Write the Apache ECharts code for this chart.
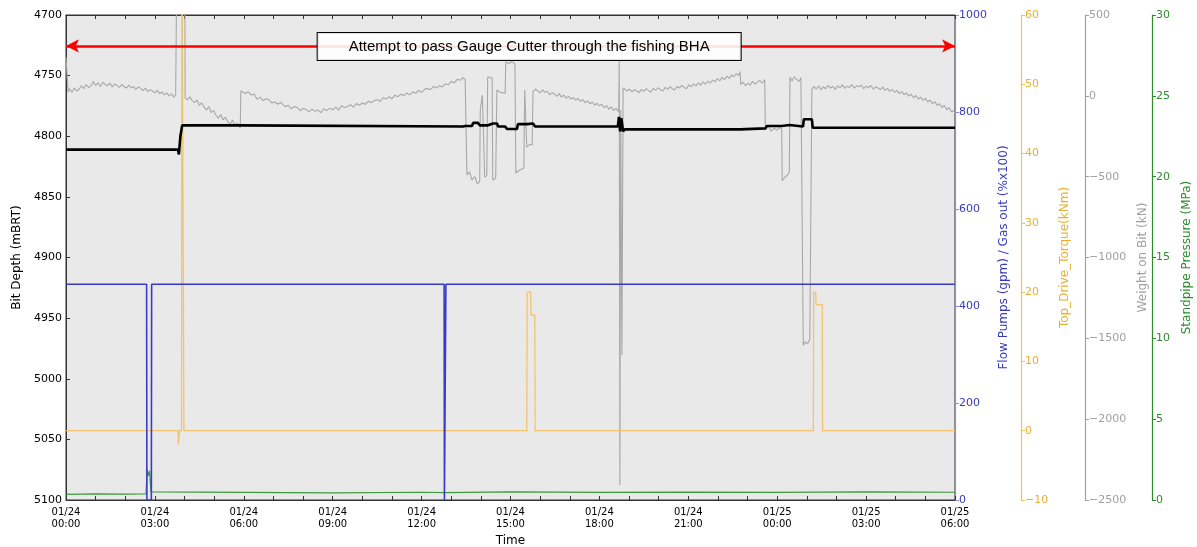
<!DOCTYPE html>
<html><head><meta charset="utf-8">
<script src="https://cdn.jsdelivr.net/npm/echarts@6/dist/echarts.min.js"></script>
<style>html,body{margin:0;padding:0;background:#fff;}#c{width:1197px;height:547px;}</style>
</head><body><div id="c"></div>
<script>
// Time in hours from 01/24 00:00
const xTicksHours = [0, 3, 6, 9, 12, 15, 18, 21, 24, 27, 30];
const xTickLabels = ['01/24\n00:00','01/24\n03:00','01/24\n06:00','01/24\n09:00','01/24\n12:00','01/24\n15:00','01/24\n18:00','01/24\n21:00','01/25\n00:00','01/25\n03:00','01/25\n06:00'];

// Bit depth (mBRT), left axis
const bitDepth = [[0,4811],[3.78,4811],[3.81,4815],[3.84,4815],[3.86,4800],[3.88,4797],[3.92,4791],[5.85,4791],[5.9,4792],[13.4,4792],[13.47,4791.5],[13.7,4791.5],[13.74,4789],[13.9,4789],[13.97,4791],[14.24,4791],[14.41,4789.5],[14.55,4789.5],[14.58,4792],[14.82,4792],[14.88,4794],[15.22,4794],[15.25,4790],[15.56,4790],[15.59,4789.5],[15.76,4789.5],[15.83,4792],[18.62,4792],[18.66,4784],[18.7,4796],[18.74,4785],[18.8,4796],[18.85,4794.3],[22.75,4794.3],[22.8,4793.5],[23.6,4793.5],[23.65,4791.6],[24.15,4791.6],[24.18,4790.7],[24.42,4790.7],[24.45,4792],[24.87,4792],[24.9,4786],[25.17,4786],[25.2,4793],[30,4793]];

// Flow pumps (gpm), blue axis
const flowPumps = [[0,445],[2.72,445],[2.73,0],[2.88,0],[2.89,445],[12.76,445],[12.77,0],[12.81,0],[12.82,445],[30,445]];

// Top drive torque (kNm), orange axis
const torque = [[0,0],[3.78,0],[3.79,-2],[3.82,-2],[3.83,0],[3.9,0],[3.91,75],[3.97,75],[3.98,0],[15.55,0],[15.56,20],[15.68,20],[15.69,16.7],[15.82,16.7],[15.83,0],[25.22,0],[25.23,20],[25.3,20],[25.31,18.2],[25.52,18.2],[25.53,0],[30,0]];

// Weight on bit (kN), gray axis
const weightOnBit = [[0,240],[0.05,240],[0.07,24],[0.12,44],[0.2,22],[0.28,48],[0.36,30],[0.44,41],[0.52,62],[0.6,45],[0.68,70],[0.76,52],[0.84,60],[0.92,88],[1.0,64],[1.08,80],[1.16,58],[1.24,84],[1.32,70],[1.4,62],[1.48,79],[1.56,55],[1.64,72],[1.72,66],[1.8,52],[1.88,70],[1.96,58],[2.04,48],[2.12,66],[2.2,50],[2.28,57],[2.36,40],[2.44,55],[2.52,46],[2.6,32],[2.68,48],[2.76,26],[2.84,38],[2.92,30],[3.0,18],[3.08,34],[3.16,14],[3.24,24],[3.32,6],[3.4,18],[3.48,0],[3.56,12],[3.64,-8],[3.7,6],[3.73,11],[3.74,800],[4.01,800],[4.02,-13],
[4.1,-24],[4.18,-6],[4.26,-30],[4.34,-42],[4.42,-26],[4.5,-58],[4.58,-44],[4.66,-70],[4.74,-88],[4.82,-66],[4.9,-104],[4.98,-90],[5.06,-120],[5.14,-138],[5.22,-116],[5.3,-148],[5.38,-132],[5.46,-160],[5.54,-176],[5.62,-150],[5.7,-182],[5.78,-168],[5.88,-198],[5.9,30],
[5.95,40],[6.05,14],[6.15,25],[6.25,5],[6.35,12],[6.45,-22],[6.55,-8],[6.65,-30],[6.75,-18],[6.85,-24],[6.95,-45],[7.05,-38],[7.15,-52],[7.25,-40],[7.4,-68],[7.5,-58],[7.6,-80],[7.7,-66],[7.8,-72],[7.9,-92],[8.0,-78],[8.1,-85],[8.2,-98],[8.3,-82],[8.4,-96],[8.5,-88],[8.6,-104],[8.7,-80],[8.8,-92],[8.9,-76],[9.0,-86],[9.1,-70],[9.2,-88],[9.3,-62],[9.4,-72],[9.5,-66],[9.6,-55],[9.7,-70],[9.8,-48],[9.9,-58],[10.0,-44],[10.1,-52],[10.2,-34],[10.3,-42],[10.4,-30],[10.5,-22],[10.6,-35],[10.7,-12],[10.8,-20],[10.9,-6],[11.0,-18],[11.1,4],[11.2,-5],[11.3,10],[11.4,2],[11.5,18],[11.6,6],[11.7,24],[11.8,16],[11.9,34],[12.0,22],[12.1,40],[12.2,46],[12.3,38],[12.4,58],[12.5,48],[12.6,62],[12.7,55],[12.8,75],[12.9,68],[13.0,90],[13.1,80],[13.2,102],[13.3,96],[13.4,112],[13.47,100],
[13.52,98],[13.53,-490],[13.62,-470],[13.7,-520],[13.8,-500],[13.88,-545],[13.96,-530],[13.98,-88],[14.05,5],[14.1,5],[14.13,-502],[14.2,-495],[14.23,116],[14.38,110],[14.4,-521],[14.5,-508],[14.54,36],[14.65,22],[14.82,17],[14.84,209],[14.95,200],[15.05,212],[15.15,197],[15.18,-477],[15.3,-460],[15.45,-446],[15.48,36],[15.53,30],[15.55,-317],[15.65,-300],[15.73,-304],[15.76,24],
[15.84,42],[15.92,30],[16.0,18],[16.08,36],[16.16,22],[16.24,28],[16.32,6],[16.4,20],[16.48,12],[16.56,-4],[16.64,14],[16.72,-8],[16.8,4],[16.88,-14],[16.96,-2],[17.04,-20],[17.12,-10],[17.2,-26],[17.28,-16],[17.36,-34],[17.44,-22],[17.52,-44],[17.6,-30],[17.68,-50],[17.76,-38],[17.84,-58],[17.92,-46],[18.0,-62],[18.08,-52],[18.16,-74],[18.24,-60],[18.32,-82],[18.4,-68],[18.48,-90],[18.56,-78],[18.65,-100],[18.67,222],[18.69,-2407],[18.72,-88],[18.76,-1603],[18.8,48],
[18.86,46],[18.94,30],[19.02,42],[19.1,24],[19.18,38],[19.26,30],[19.34,20],[19.42,40],[19.5,28],[19.58,44],[19.66,32],[19.74,24],[19.82,46],[19.9,34],[19.98,50],[20.06,38],[20.14,30],[20.22,52],[20.3,40],[20.38,56],[20.46,44],[20.54,36],[20.62,58],[20.7,48],[20.78,64],[20.86,52],[20.94,44],[21.02,68],[21.1,56],[21.18,74],[21.26,62],[21.34,80],[21.42,66],[21.5,86],[21.58,72],[21.66,92],[21.74,78],[21.82,98],[21.9,86],[21.98,106],[22.06,92],[22.14,114],[22.22,100],[22.3,122],[22.38,108],[22.46,130],[22.54,118],[22.62,138],[22.7,126],[22.75,150],[22.77,70],[22.85,84],[22.93,62],[23.01,78],[23.09,66],[23.17,90],[23.25,72],[23.33,84],[23.41,96],[23.49,78],[23.58,100],
[23.6,-211],[23.7,-190],[23.8,-218],[23.9,-200],[24.0,-212],[24.08,-195],[24.15,-205],[24.17,-525],[24.25,-505],[24.3,-515],[24.35,-490],[24.41,-470],[24.43,115],[24.5,92],[24.58,118],[24.66,100],[24.74,90],[24.8,112],[24.86,105],[24.88,-1545],[24.95,-1520],[25.02,-1535],[25.1,-1505],[25.16,-1500],[25.17,40],
[25.24,58],[25.32,42],[25.4,62],[25.48,36],[25.56,56],[25.64,44],[25.72,64],[25.8,48],[25.88,58],[25.96,40],[26.04,62],[26.12,50],[26.2,68],[26.28,46],[26.36,60],[26.44,52],[26.52,70],[26.6,48],[26.68,62],[26.76,56],[26.84,66],[26.92,44],[27.0,60],[27.08,50],[27.16,64],[27.24,42],[27.32,56],[27.4,48],[27.48,38],[27.56,54],[27.64,34],[27.72,46],[27.8,28],[27.88,40],[27.96,22],[28.04,34],[28.12,14],[28.2,26],[28.28,8],[28.36,18],[28.44,-2],[28.52,10],[28.6,-12],[28.68,2],[28.76,-20],[28.84,-8],[28.92,-28],[29.0,-16],[29.08,-38],[29.16,-26],[29.24,-48],[29.32,-36],[29.4,-60],[29.48,-48],[29.56,-72],[29.64,-60],[29.72,-86],[29.8,-74],[29.88,-98],[29.95,-92],[30.0,-110]];

// Standpipe pressure (MPa), green axis
const standpipe = [[0,0.35],[1.0,0.38],[2.0,0.36],[2.7,0.37],[2.74,1.9],[2.78,1.5],[2.82,1.8],[2.87,0.5],[2.92,0.45],[6,0.47],[9,0.44],[12,0.48],[12.8,0.46],[15,0.5],[18,0.47],[21,0.49],[24,0.47],[27,0.5],[30,0.48]];

const annotationText = 'Attempt to pass Gauge Cutter through the fishing BHA';
const arrowDepth = 4725.5;
const annotationAt = [15.63, 4726];

const FONT = 'DejaVu Sans';
const minusFmt = v => String(v).replace('-', '\u2212');

const chart = echarts.init(document.getElementById('c'), null, {renderer: 'canvas'});

function rightAxis(opts) {
  return {
    type: 'value', position: 'right', offset: opts.offset,
    min: opts.min, max: opts.max, interval: opts.interval,
    name: opts.name, nameLocation: 'middle', nameRotate: 90, nameGap: opts.nameGap,
    nameTextStyle: {color: opts.color, fontFamily: FONT, fontSize: 12},
    axisLine: {show: true, onZero: false, lineStyle: {color: opts.lineColor, width: 1.2}},
    axisTick: {show: true, length: 4, lineStyle: {color: opts.lineColor}},
    axisLabel: {color: opts.color, fontFamily: FONT, fontSize: 11, margin: 4, formatter: minusFmt},
    splitLine: {show: false}
  };
}

const option = {
  animation: false,
  backgroundColor: '#ffffff',
  grid: {left: 66, right: 242, top: 15, bottom: 47, outerBoundsMode: 'none', containLabel: false,
    show: true, backgroundColor: '#e9e9e9', borderColor: '#333', borderWidth: 1},
  xAxis: [{
    type: 'value', min: 0, max: 30, interval: 3,
    name: 'Time', nameLocation: 'middle', nameGap: 30,
    nameTextStyle: {color: '#000', fontFamily: FONT, fontSize: 12},
    axisLine: {show: true, onZero: false, lineStyle: {color: '#333'}},
    axisTick: {show: true, inside: true, length: 4, lineStyle: {color: '#333'}},
    minorTick: {show: true, splitNumber: 3, length: 4, lineStyle: {color: '#333'}},
    axisLabel: {color: '#000', fontFamily: FONT, fontSize: 10, lineHeight: 12, margin: 6,
      formatter: v => { const i = xTicksHours.indexOf(v); return i >= 0 ? xTickLabels[i] : ''; }},
    splitLine: {show: false}
  }, {
    type: 'value', position: 'top', min: 0, max: 30, interval: 3,
    axisLine: {show: true, onZero: false, lineStyle: {color: '#333'}},
    axisTick: {show: true, inside: true, length: 4, lineStyle: {color: '#333'}},
    minorTick: {show: true, splitNumber: 3, length: 4, lineStyle: {color: '#333'}},
    axisLabel: {show: false}, splitLine: {show: false}
  }],
  yAxis: [{
    type: 'value', position: 'left', inverse: true, min: 4700, max: 5100, interval: 50,
    name: 'Bit Depth (mBRT)', nameLocation: 'middle', nameRotate: 90, nameGap: 40,
    nameTextStyle: {color: '#000', fontFamily: FONT, fontSize: 12},
    axisLine: {show: true, onZero: false, lineStyle: {color: '#333'}},
    axisTick: {show: true, inside: true, length: 4, lineStyle: {color: '#333'}},
    axisLabel: {color: '#000', fontFamily: FONT, fontSize: 11, margin: 4, formatter: v => String(v)},
    splitLine: {show: false}
  },
  rightAxis({offset: 0, min: 0, max: 1000, interval: 200, name: 'Flow Pumps (gpm) / Gas out (%x100)', nameGap: 39, color: '#3a3ab8', lineColor: '#8c8ce0'}),
  rightAxis({offset: 66, min: -10, max: 60, interval: 10, name: 'Top_Drive_Torque(kNm)', nameGap: 35, color: '#e8b030', lineColor: '#f0c25a'}),
  rightAxis({offset: 130, min: -2500, max: 500, interval: 500, name: 'Weight on Bit (kN)', nameGap: 52, color: '#a0a0a0', lineColor: '#a0a0a0'}),
  rightAxis({offset: 197, min: 0, max: 30, interval: 5, name: 'Standpipe Pressure (MPa)', nameGap: 29, color: '#2e8b2e', lineColor: '#2e8b2e'})
  ],
  series: [
    {name: 'Weight on Bit', type: 'line', yAxisIndex: 3, data: weightOnBit, showSymbol: false, symbol: 'none',
      lineStyle: {color: '#a8a8a8', width: 1.1}, z: 2},
    {name: 'Torque', type: 'line', yAxisIndex: 2, data: torque, showSymbol: false, symbol: 'none',
      lineStyle: {color: '#f5c36e', width: 1.3}, z: 3},
    {name: 'Standpipe', type: 'line', yAxisIndex: 4, data: standpipe, showSymbol: false, symbol: 'none',
      lineStyle: {color: '#3d9a3d', width: 1.2}, z: 4},
    {name: 'Flow Pumps', type: 'line', yAxisIndex: 1, data: flowPumps, showSymbol: false, symbol: 'none',
      lineStyle: {color: '#3a3ac8', width: 1.6}, z: 5},
    {name: 'Bit Depth', type: 'line', yAxisIndex: 0, data: bitDepth, showSymbol: false, symbol: 'none',
      lineStyle: {color: '#000', width: 2.6}, z: 6,
      markLine: {silent: true, symbol: ['arrow', 'arrow'], symbolSize: [10, 13], label: {show: false},
        lineStyle: {color: '#ff0000', width: 2.5, type: 'solid'},
        data: [[{coord: [0, arrowDepth]}, {coord: [30, arrowDepth]}]]},
      markPoint: {silent: true, symbol: 'rect', symbolSize: 1, itemStyle: {color: 'rgba(0,0,0,0)'},
        data: [{coord: annotationAt, value: annotationText,
          label: {show: true, position: 'inside', formatter: annotationText, color: '#000',
            fontFamily: 'Liberation Sans', fontSize: 15, lineHeight: 17,
            backgroundColor: 'rgba(255,255,255,0.88)', borderColor: '#000', borderWidth: 1, padding: [5, 31, 5, 31]}}]}
    }
  ]
};
chart.setOption(option);
</script></body></html>
